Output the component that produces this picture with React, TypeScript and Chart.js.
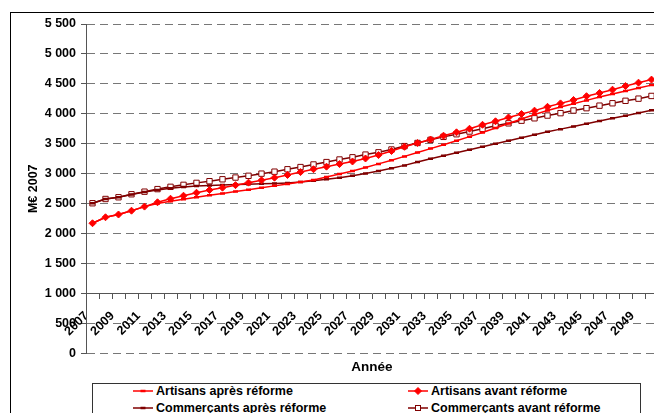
import React, { useEffect, useRef } from 'react';
import { Chart, registerables } from 'chart.js';

Chart.register(...registerables);

const years = [
  '2007', '2008', '2009', '2010', '2011', '2012', '2013', '2014', '2015', '2016',
  '2017', '2018', '2019', '2020', '2021', '2022', '2023', '2024', '2025', '2026',
  '2027', '2028', '2029', '2030', '2031', '2032', '2033', '2034', '2035', '2036',
  '2037', '2038', '2039', '2040', '2041', '2042', '2043', '2044', '2045', '2046',
  '2047', '2048', '2049', '2050',
];

const xTickLabels = [
  '2007', '2009', '2011', '2013', '2015', '2017', '2019', '2021', '2023', '2025', '2027',
  '2029', '2031', '2033', '2035', '2037', '2039', '2041', '2043', '2045', '2047', '2049',
];

const yTickLabels = [
  '0', '500', '1 000', '1 500', '2 000', '2 500', '3 000', '3 500', '4 000', '4 500', '5 000', '5 500',
];

const artisansApres = [
  2174, 2274, 2320, 2384, 2452, 2505, 2540, 2575, 2608, 2641,
  2672, 2703, 2735, 2767, 2798, 2830, 2862, 2895, 2945, 2995,
  3048, 3105, 3165, 3225, 3290, 3355, 3420, 3485, 3550, 3620,
  3690, 3765, 3840, 3915, 3990, 4055, 4115, 4170, 4225, 4280,
  4330, 4380, 4430, 4480,
];

const artisansAvant = [
  2174, 2274, 2320, 2384, 2452, 2524, 2584, 2634, 2684, 2728,
  2768, 2810, 2852, 2891, 2935, 2980, 3028, 3076, 3119, 3162,
  3205, 3255, 3312, 3380, 3450, 3514, 3572, 3636, 3692, 3752,
  3818, 3876, 3940, 3998, 4054, 4118, 4175, 4232, 4295, 4349,
  4404, 4464, 4521, 4572,
];

const commercantsApres = [
  2508, 2579, 2608, 2655, 2697, 2730, 2757, 2778, 2795, 2805,
  2813, 2820, 2826, 2832, 2838, 2848, 2862, 2885, 2908, 2935,
  2968, 3005, 3048, 3093, 3140, 3195, 3250, 3300, 3350, 3400,
  3450, 3500, 3550, 3600, 3650, 3700, 3745, 3790, 3835, 3880,
  3925, 3970, 4015, 4060,
];

const commercantsAvant = [
  2508, 2579, 2608, 2658, 2701, 2744, 2782, 2815, 2848, 2876,
  2908, 2937, 2966, 3002, 3035, 3075, 3112, 3155, 3195, 3238,
  3275, 3320, 3358, 3405, 3462, 3514, 3566, 3616, 3660, 3705,
  3750, 3800, 3842, 3886, 3926, 3972, 4012, 4056, 4095, 4137,
  4177, 4218, 4254, 4299,
];

const seriesLabels = [
  'Artisans après réforme',
  'Artisans avant réforme',
  'Commerçants après réforme',
  'Commerçants avant réforme',
];

const yTitle = 'M€ 2007';
const xTitle = 'Année';

const RED = '#FF0000';
const DARK = '#800000';
const FONT = "'Liberation Sans', Arial, Helvetica, sans-serif";

type Marker = 'dash' | 'diamond' | 'square';

const legendItems: { label: string; color: string; marker: Marker; col: number; row: number }[] = [
  { label: seriesLabels[0], color: RED, marker: 'dash', col: 0, row: 0 },
  { label: seriesLabels[1], color: RED, marker: 'diamond', col: 1, row: 0 },
  { label: seriesLabels[2], color: DARK, marker: 'dash', col: 0, row: 1 },
  { label: seriesLabels[3], color: DARK, marker: 'square', col: 1, row: 1 },
];

function Swatch({ color, marker }: { color: string; marker: Marker }) {
  return (
    <svg width={20} height={10} style={{ display: 'block' }}>
      <line x1={0} y1={5} x2={20} y2={5} stroke={color} strokeWidth={1.5} />
      {marker === 'dash' && <line x1={7.5} y1={5} x2={12.5} y2={5} stroke={color} strokeWidth={2.5} />}
      {marker === 'diamond' && <polygon points="10,1.5 13.5,5 10,8.5 6.5,5" fill={color} stroke={color} strokeWidth={1} />}
      {marker === 'square' && <rect x={7.5} y={2.5} width={5} height={5} fill="#fff" stroke={color} strokeWidth={1} />}
    </svg>
  );
}

function Legend() {
  return (
    <div
      style={{
        position: 'absolute',
        left: 92,
        top: 383,
        width: 549,
        height: 60,
        border: '1px solid #333',
        background: '#fff',
        boxSizing: 'border-box',
      }}
    >
      {legendItems.map((it) => (
        <div
          key={it.label}
          style={{
            position: 'absolute',
            left: it.col === 0 ? 40 : 315,
            top: it.row === 0 ? -1 : 16,
            height: 16,
            display: 'flex',
            alignItems: 'center',
            whiteSpace: 'nowrap',
            font: `bold 12.5px ${FONT}`,
            color: '#000',
          }}
        >
          <Swatch color={it.color} marker={it.marker} />
          <span style={{ marginLeft: 3 }}>{it.label}</span>
        </div>
      ))}
    </div>
  );
}

export default function App() {
  const ref = useRef<HTMLCanvasElement>(null);

  useEffect(() => {
    if (!ref.current) return;
    const tickFont = { family: FONT, size: 12.5, weight: 'bold' as const };
    const chart = new Chart(ref.current, {
      type: 'line',
      data: {
        labels: years,
        datasets: [
          {
            label: seriesLabels[0],
            data: artisansApres,
            borderColor: RED,
            backgroundColor: RED,
            borderWidth: 1.5,
            pointStyle: 'line',
            pointRadius: 2.5,
            pointBorderWidth: 2.5,
            pointBorderColor: RED,
            tension: 0,
          },
          {
            label: seriesLabels[1],
            data: artisansAvant,
            borderColor: RED,
            backgroundColor: RED,
            borderWidth: 1.5,
            pointStyle: 'rectRot',
            pointRadius: 3.5,
            pointBorderWidth: 1,
            pointBackgroundColor: RED,
            pointBorderColor: RED,
            tension: 0,
          },
          {
            label: seriesLabels[2],
            data: commercantsApres,
            borderColor: DARK,
            backgroundColor: DARK,
            borderWidth: 1.5,
            pointStyle: 'line',
            pointRadius: 2.5,
            pointBorderWidth: 2.5,
            pointBorderColor: DARK,
            tension: 0,
          },
          {
            label: seriesLabels[3],
            data: commercantsAvant,
            borderColor: DARK,
            backgroundColor: '#fff',
            borderWidth: 1.5,
            pointStyle: 'rect',
            pointRadius: 3.8,
            pointBorderWidth: 1,
            pointBackgroundColor: '#fff',
            pointBorderColor: DARK,
            tension: 0,
          },
        ],
      },
      options: {
        responsive: false,
        animation: false,
        events: [],
        layout: { padding: { left: 23, top: 24, right: 12, bottom: 37.9 } },
        plugins: {
          legend: { display: false },
          tooltip: { enabled: false },
        },
        scales: {
          x: {
            type: 'category',
            position: 'bottom',
            offset: true,
            grid: { display: false, drawTicks: false },
            border: { display: false },
            ticks: { display: false },
            title: {
              display: true,
              text: xTitle,
              color: '#000',
              font: { family: FONT, size: 13.5, weight: 'bold' },
              padding: { top: 5.4, bottom: 0 },
            },
          },
          x2: {
            type: 'category',
            axis: 'x',
            position: { y: 1000 },
            offset: true,
            grid: {
              offset: true,
              drawOnChartArea: false,
              drawTicks: true,
              tickLength: 5,
              color: '#555',
              tickColor: '#555',
            },
            border: { display: true, color: '#555', width: 1 },
            ticks: {
              autoSkip: false,
              minRotation: 45,
              maxRotation: 45,
              padding: 10,
              labelOffset: -6,
              color: '#000',
              font: tickFont,
              callback: (_v: any, i: number) => (i % 2 === 0 ? xTickLabels[i / 2] : ''),
            },
            afterFit: (s: any) => {
              s.height = 0;
              s.paddingLeft = 0;
              s.paddingRight = 0;
            },
          } as any,
          y: {
            min: 0,
            max: 5500,
            ticks: {
              stepSize: 500,
              padding: 5,
              color: '#000',
              font: tickFont,
              callback: (_v: any, i: number) => yTickLabels[i],
            },
            grid: {
              color: '#777',
              lineWidth: 1,
              drawTicks: true,
              tickLength: 5,
              tickColor: '#555',
            },
            border: { display: true, color: '#555', width: 1, dash: [8, 5] },
            title: {
              display: true,
              text: yTitle,
              color: '#000',
              font: { family: FONT, size: 12.5, weight: 'bold' },
              padding: { top: 3, bottom: 0 },
            },
            afterFit: (s: any) => {
              s.width = 63;
            },
          },
        },
      },
    });
    return () => chart.destroy();
  }, []);

  return (
    <div
      style={{
        position: 'absolute',
        left: 0,
        top: 0,
        width: 654,
        height: 413,
        overflow: 'hidden',
        background: '#fff',
      }}
    >
      <div
        style={{
          position: 'absolute',
          left: 10,
          top: 12,
          width: 1000,
          height: 1000,
          border: '1px solid #000',
        }}
      />
      <canvas ref={ref} width={670} height={413} style={{ position: 'absolute', left: 0, top: 0 }} />
      <Legend />
    </div>
  );
}
